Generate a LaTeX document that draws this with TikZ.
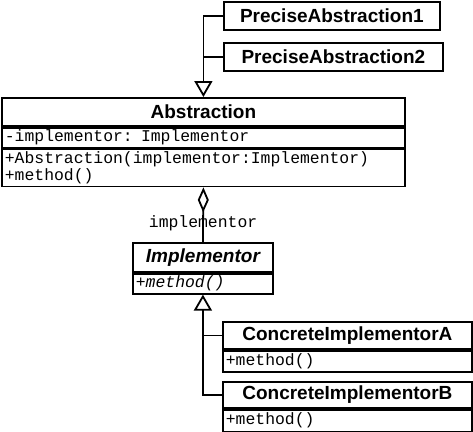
\documentclass[tikz,border=0pt]{standalone}
\usepackage{fontspec}
\usetikzlibrary{positioning,arrows.meta}
\newfontfamily\umlsans{Liberation Sans}
\newfontfamily\umlmono{Liberation Mono}

\tikzset{
  classname/.style={draw, line width=1.8pt, inner sep=0pt, anchor=north west,
    font=\fontsize{19}{20}\selectfont\umlsans\bfseries},
  members/.style={draw, line width=1.8pt, inner xsep=3pt, inner ysep=0pt, align=left,
    font=\fontsize{16.4}{16.6}\selectfont\umlmono},
  link/.style={line width=1.8pt},
  inherit/.style={link, -{Triangle[open, length=16pt, width=18pt]}},
  aggregate/.style={link, {Diamond[open, length=25pt, width=11pt]}-}
}

\begin{document}
\begin{tikzpicture}[x=1pt, y=-1pt]
  \useasboundingbox (0,0) rectangle (473,431);

  % subclasses of Abstraction
  \node[classname, minimum width=216pt, minimum height=28pt] (pa1) at (223,1) {PreciseAbstraction1};
  \node[classname, minimum width=219pt, minimum height=28pt] (pa2) at (223,42) {PreciseAbstraction2};

  % Abstraction
  \node[classname, minimum width=403pt, minimum height=28pt] (abs) at (1,97) {Abstraction};
  \node[members, text width=397pt, minimum height=20pt, below=0pt of abs] (absattr)
    {-implementor: Implementor};
  \node[members, text width=397pt, minimum height=37pt, below=0pt of absattr] (absops)
    {+Abstraction(implementor:Implementor)\\+method()};

  % Implementor
  \node[classname, minimum width=140pt, minimum height=29pt] (impl) at (132,242) {\itshape Implementor};
  \node[members, text width=134pt, minimum height=20pt, below=0pt of impl] (implops)
    {\itshape +method()};

  % concrete implementors
  \node[classname, minimum width=249pt, minimum height=27pt] (cia) at (222,321) {ConcreteImplementorA};
  \node[members, text width=243pt, minimum height=21pt, below=0pt of cia] (ciaops) {+method()};
  \node[classname, minimum width=249pt, minimum height=26pt] (cib) at (222,381) {ConcreteImplementorB};
  \node[members, text width=243pt, minimum height=22pt, below=0pt of cib] (cibops) {+method()};

  % connectors
  \draw[inherit] (pa1.west) -| (abs.north);
  \draw[link] (pa2.west) -- (pa2.west -| abs.north);
  \draw[aggregate] (absops.south) -- (impl.north)
    node[pos=0.66, font=\fontsize{16.4}{16.6}\selectfont\umlmono] (rolename) {implementor};
  \draw[inherit] (cib.west) -| (implops.south);
  \draw[link] (cia.west) -- (cia.west -| implops.south);
\end{tikzpicture}
\end{document}
